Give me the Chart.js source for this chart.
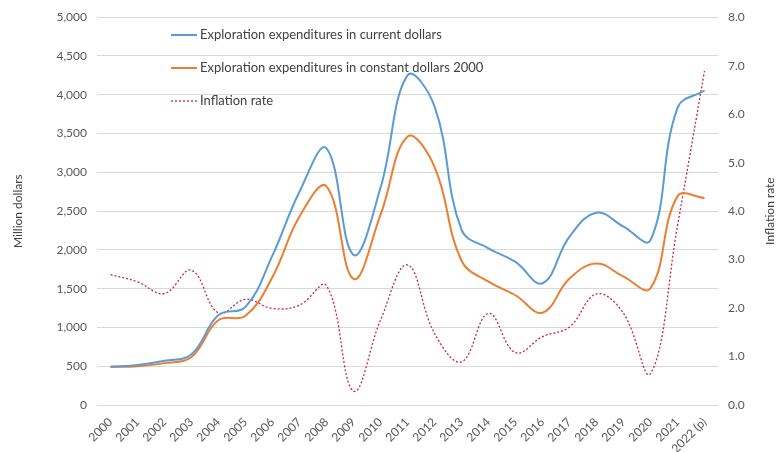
<!DOCTYPE html>
<html>
<head>
<meta charset="utf-8">
<script src="https://cdn.jsdelivr.net/npm/chart.js@4/dist/chart.umd.min.js"></script>
<style>
    html, body { margin: 0; padding: 0; background: #fff; }
    #wrap { width: 780px; height: 452px; position: relative; }
</style>
</head>
<body>
<div id="wrap"><canvas id="myChart"></canvas></div>
<script>
// data
var years = ['2000', '2001', '2002', '2003', '2004', '2005', '2006', '2007', '2008', '2009', '2010', '2011',
    '2012', '2013', '2014', '2015', '2016', '2017', '2018', '2019', '2020', '2021', '2022 (p)'];
var currentDollars = [495, 515, 570, 655, 1160, 1265, 1930, 2750, 3310, 1935, 2800, 4250,
    3850, 2260, 2020, 1845, 1570, 2170, 2480, 2300, 2125, 3830, 4055];
var constantDollars = [490, 500, 540, 620, 1095, 1150, 1650, 2430, 2820, 1625, 2450, 3460,
    3070, 1860, 1590, 1415, 1190, 1630, 1825, 1655, 1505, 2690, 2670];
var inflationRate = [2.69, 2.54, 2.30, 2.78, 1.90, 2.18, 1.99, 2.06, 2.46, 0.29, 1.75, 2.89,
    1.48, 0.89, 1.89, 1.08, 1.41, 1.61, 2.29, 1.89, 0.65, 3.70, 6.89];
var seriesNames = ['Exploration expenditures in current dollars',
    'Exploration expenditures in constant dollars 2000',
    'Inflation rate'];
var axisTitles = ['Million dollars', 'Inflation rate'];

var FONT = 'Lato, "Liberation Sans", sans-serif';
var tickColor = '#595959';

// legend drawn inside the plot, stacked like the excel one
// + right axis title (excel reads it bottom to top, chart.js would turn it the other way)
var insideLegend = {
    id: 'insideLegend',
    afterDraw: function (chart) {
        var ctx = chart.ctx;
        ctx.save();
        ctx.font = '13px ' + FONT;
        ctx.textBaseline = 'middle';
        chart.data.datasets.forEach(function (ds, i) {
            var y = 35 + i * 33;
            ctx.beginPath();
            ctx.strokeStyle = ds.borderColor;
            ctx.lineWidth = ds.borderDash ? 1.3 : 2;
            ctx.setLineDash(ds.borderDash || []);
            ctx.moveTo(171, y);
            ctx.lineTo(197, y);
            ctx.stroke();
            ctx.setLineDash([]);
            ctx.fillStyle = '#404040';
            ctx.fillText(ds.label, 200, y);
        });

        var area = chart.chartArea;
        ctx.font = '12px ' + FONT;
        ctx.fillStyle = '#404040';
        ctx.textAlign = 'center';
        ctx.translate(770, (area.top + area.bottom) / 2);
        ctx.rotate(-Math.PI / 2);
        ctx.fillText(axisTitles[1], 0, 0);
        ctx.restore();
    }
};

var ctx = document.getElementById("myChart");
var myChart = new Chart(ctx, {
    type: 'line',
    data: {
        labels: years,
        datasets: [{
                label: seriesNames[0],
                data: currentDollars,
                borderColor: '#5b9bd5',
                borderWidth: 2,
                pointRadius: 0,
                tension: 0.4,
                yAxisID: 'y'
            }, {
                label: seriesNames[1],
                data: constantDollars,
                borderColor: '#ed7d31',
                borderWidth: 2,
                pointRadius: 0,
                tension: 0.4,
                yAxisID: 'y'
            }, {
                label: seriesNames[2],
                data: inflationRate,
                borderColor: '#c9243f',
                borderWidth: 1.3,
                borderDash: [2, 2],
                pointRadius: 0,
                tension: 0.4,
                yAxisID: 'y1'
            }]
    },
    options: {
        responsive: true,
        maintainAspectRatio: false,
        animation: false,
        layout: {padding: {top: 17, left: 0, right: 0, bottom: 0}},
        plugins: {
            legend: {display: false},
            tooltip: {enabled: false}
        },
        scales: {
            x: {
                offset: true,
                grid: {display: false},
                border: {display: false},
                ticks: {
                    color: tickColor,
                    font: {family: FONT, size: 12},
                    minRotation: 45,
                    maxRotation: 45,
                    autoSkip: false,
                    padding: 2
                },
                afterFit: function (scale) { scale.height = 47; }
            },
            y: {
                position: 'left',
                min: 0,
                max: 5000,
                ticks: {
                    stepSize: 500,
                    color: tickColor,
                    font: {family: FONT, size: 12},
                    padding: 10,
                    callback: function (v) { return v.toLocaleString('en-US'); }
                },
                grid: {color: '#d9d9d9', drawTicks: false},
                border: {display: false},
                title: {
                    display: true,
                    text: axisTitles[0],
                    color: '#404040',
                    font: {family: FONT, size: 12},
                    padding: {top: 11, bottom: 0}
                },
                afterFit: function (scale) { scale.width = 97; }
            },
            y1: {
                position: 'right',
                min: 0,
                max: 8,
                ticks: {
                    stepSize: 1,
                    color: tickColor,
                    font: {family: FONT, size: 12},
                    padding: 10,
                    callback: function (v) { return v.toFixed(1); }
                },
                grid: {drawOnChartArea: false, drawTicks: false},
                border: {display: false},
                afterFit: function (scale) { scale.width = 62; }
            }
        }
    },
    plugins: [insideLegend]
});
</script>
</body>
</html>
